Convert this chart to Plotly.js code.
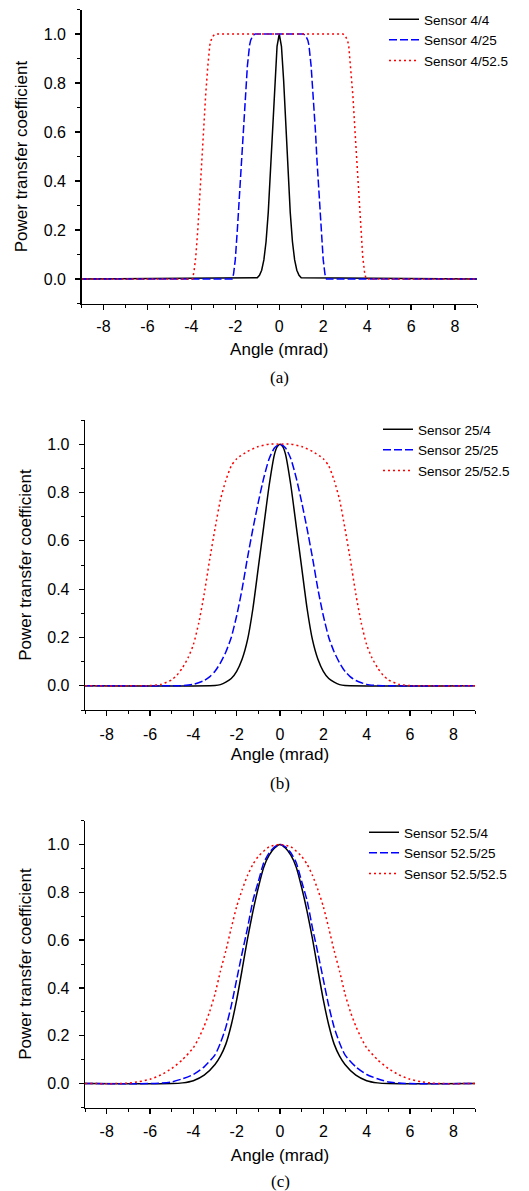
<!DOCTYPE html>
<html>
<head>
<meta charset="utf-8">
<script src="https://cdn.plot.ly/plotly-3.0.1.min.js"></script>
<style>html,body{margin:0;padding:0;background:#fff;}#chart{width:529px;height:1191px;}</style>
</head>
<body>
<div id="chart"></div>
<script>
// ---------- Panel (a) ----------
const names_a = ['Sensor 4/4', 'Sensor 4/25', 'Sensor 4/52.5'];
const angle_a_4 = [-9,-1.0,-0.9,-0.8,-0.7,-0.6,-0.5,-0.4,-0.3,-0.2,-0.1,0,0.1,0.2,0.3,0.4,0.5,0.6,0.7,0.8,0.9,1.0,9];
const ptc_a_4   = [0,0.005,0.015,0.036,0.078,0.153,0.272,0.435,0.626,0.81,0.95,1,0.95,0.81,0.626,0.435,0.272,0.153,0.078,0.036,0.015,0.005,0];
const angle_a_25 = [-9,-2.15,-2.08,-2.0,-1.9,-1.8,-1.72,-1.65,-1.55,-1.45,-1.35,-1.3,-1.2,-1.1,1.1,1.2,1.3,1.35,1.45,1.55,1.65,1.72,1.8,1.9,2.0,2.08,2.15,9];
const ptc_a_25   = [0,0,0.02,0.08,0.21,0.36,0.48,0.6,0.75,0.87,0.955,0.975,0.993,1,1,0.993,0.975,0.955,0.87,0.75,0.6,0.48,0.36,0.21,0.08,0.02,0,0];
const angle_a_52 = [-9,-3.95,-3.88,-3.8,-3.7,-3.62,-3.53,-3.45,-3.35,-3.25,-3.16,-3.1,-3.0,-2.9,2.9,3.0,3.1,3.16,3.25,3.35,3.45,3.53,3.62,3.7,3.8,3.88,3.95,9];
const ptc_a_52   = [0,0,0.03,0.09,0.21,0.34,0.48,0.6,0.75,0.87,0.955,0.975,0.993,1,1,0.993,0.975,0.955,0.87,0.75,0.6,0.48,0.34,0.21,0.09,0.03,0,0];

// ---------- Panel (b) ----------
const names_b = ['Sensor 25/4', 'Sensor 25/25', 'Sensor 25/52.5'];
const angle_b_4 = [-9,-3,-2.75,-2.5,-2.25,-2,-1.75,-1.5,-1.25,-1,-0.75,-0.5,-0.25,-0.125,0,0.125,0.25,0.5,0.75,1,1.25,1.5,1.75,2,2.25,2.5,2.75,3,9];
const ptc_b_4   = [0,0.001,0.005,0.015,0.03,0.06,0.11,0.19,0.32,0.49,0.66,0.83,0.96,0.99,1,0.99,0.96,0.83,0.66,0.49,0.32,0.19,0.11,0.06,0.03,0.015,0.005,0.001,0];
const angle_b_25 = [-9,-5,-4.5,-4,-3.5,-3.25,-3,-2.75,-2.5,-2.25,-2,-1.75,-1.5,-1.25,-1,-0.75,-0.5,-0.25,0,0.25,0.5,0.75,1,1.25,1.5,1.75,2,2.25,2.5,2.75,3,3.25,3.5,4,4.5,5,9];
const ptc_b_25   = [0,0,0.001,0.006,0.022,0.037,0.06,0.095,0.14,0.2,0.29,0.4,0.53,0.65,0.76,0.86,0.94,0.985,1,0.985,0.94,0.86,0.76,0.65,0.53,0.4,0.29,0.2,0.14,0.095,0.06,0.037,0.022,0.006,0.001,0,0];
const angle_b_52 = [-9,-6,-5.5,-5,-4.75,-4.5,-4.25,-4,-3.75,-3.5,-3.25,-3,-2.75,-2.5,-2.25,-2,-1.5,-1,-0.5,0,0.5,1,1.5,2,2.25,2.5,2.75,3,3.25,3.5,3.75,4,4.25,4.5,4.75,5,5.5,6,9];
const ptc_b_52   = [0,0.001,0.006,0.025,0.045,0.075,0.115,0.17,0.26,0.38,0.52,0.65,0.77,0.85,0.91,0.94,0.97,0.99,1,1,1,0.99,0.97,0.94,0.91,0.85,0.77,0.65,0.52,0.38,0.26,0.17,0.115,0.075,0.045,0.025,0.006,0.001,0];

// ---------- Panel (c) ----------
const names_c = ['Sensor 52.5/4', 'Sensor 52.5/25', 'Sensor 52.5/52.5'];
const angle_c_4 = [-9,-5,-4.5,-4,-3.5,-3,-2.75,-2.5,-2.25,-2,-1.75,-1.5,-1.25,-1,-0.75,-0.5,-0.25,0,0.25,0.5,0.75,1,1.25,1.5,1.75,2,2.25,2.5,2.75,3,3.5,4,4.5,5,9];
const ptc_c_4   = [0,0,0.003,0.012,0.035,0.08,0.115,0.165,0.245,0.35,0.475,0.605,0.72,0.82,0.905,0.955,0.985,1,0.985,0.955,0.905,0.82,0.72,0.605,0.475,0.35,0.245,0.165,0.115,0.08,0.035,0.012,0.003,0,0];
const angle_c_25 = [-9,-6,-5.5,-5,-4.5,-4,-3.5,-3,-2.75,-2.5,-2.25,-2,-1.75,-1.5,-1.25,-1,-0.75,-0.5,-0.25,0,0.25,0.5,0.75,1,1.25,1.5,1.75,2,2.25,2.5,2.75,3,3.5,4,4.5,5,5.5,6,9];
const ptc_c_25   = [0,0,0.002,0.007,0.02,0.038,0.07,0.12,0.17,0.235,0.325,0.435,0.545,0.65,0.765,0.845,0.923,0.965,0.99,1,0.99,0.965,0.923,0.845,0.765,0.65,0.545,0.435,0.325,0.235,0.17,0.12,0.07,0.038,0.02,0.007,0.002,0,0];
const angle_c_52 = [-9,-7.5,-7,-6.5,-6,-5.5,-5,-4.5,-4,-3.75,-3.5,-3.25,-3,-2.75,-2.5,-2.25,-2,-1.75,-1.5,-1.25,-1,-0.5,0,0.5,1,1.25,1.5,1.75,2,2.25,2.5,2.75,3,3.25,3.5,3.75,4,4.5,5,5.5,6,6.5,7,7.5,9];
const ptc_c_52   = [0,0,0.002,0.008,0.018,0.036,0.063,0.1,0.15,0.19,0.24,0.3,0.375,0.47,0.555,0.65,0.74,0.81,0.87,0.917,0.95,0.99,1,0.99,0.95,0.917,0.87,0.81,0.74,0.65,0.555,0.47,0.375,0.3,0.24,0.19,0.15,0.1,0.063,0.036,0.018,0.008,0.002,0,0];

const xTickVals = [-8,-6,-4,-2,0,2,4,6,8];
const yTickVals = [0.0,0.2,0.4,0.6,0.8,1.0];
const panelLabels = ['(a)', '(b)', '(c)'];

const W = 529, H = 1191;
const SANS = 'Liberation Sans, Arial, Helvetica, sans-serif';
const SERIF = 'Liberation Serif, Times New Roman, serif';
const styles = [
  {color:'#000000', width:1.5, dash:'solid'},
  {color:'#0000ff', width:1.5, dash:'8px,3px'},
  {color:'#ff0000', width:1.5, dash:'2px,3px'}
];

// pixel geometry of each panel: [left, right, top, bottom]
const geom = [
  [81.5, 477, 9.5, 303.5],
  [85, 475, 420, 710],
  [85, 475, 820.5, 1107.5]
];
const xStandoff = [3, 4, 4];
const xTitleStandoff = [9, 6, 10];
const labelY = [378, 783, 1181.5];
const legendPos = [[384, 4], [378, 414], [364, 817]];

const panels = [
  {names:names_a, xs:[angle_a_4, angle_a_25, angle_a_52], ys:[ptc_a_4, ptc_a_25, ptc_a_52], shape:'linear'},
  {names:names_b, xs:[angle_b_4, angle_b_25, angle_b_52], ys:[ptc_b_4, ptc_b_25, ptc_b_52], shape:'spline'},
  {names:names_c, xs:[angle_c_4, angle_c_25, angle_c_52], ys:[ptc_c_4, ptc_c_25, ptc_c_52], shape:'spline'}
];

const traces = [];
const layout = {
  width: W, height: H,
  margin: {l:0, r:0, t:0, b:0},
  paper_bgcolor: '#ffffff', plot_bgcolor: '#ffffff',
  font: {family: SANS, color:'#000'},
  annotations: [],
  showlegend: true
};

panels.forEach((p, i) => {
  const n = i === 0 ? '' : String(i + 1);
  const [l, r, t, b] = geom[i];
  for (let k = 0; k < 3; k++) {
    traces.push({
      type:'scatter', mode:'lines',
      x: p.xs[k], y: p.ys[k], name: p.names[k],
      xaxis: 'x' + n, yaxis: 'y' + n,
      legend: 'legend' + n,
      line: {color: styles[k].color, width: styles[k].width, dash: styles[k].dash, shape: p.shape, smoothing: 0.6},
      hoverinfo: 'skip'
    });
  }
  layout['xaxis' + n] = {
    domain: [l / W, r / W], anchor: 'y' + n,
    range: [-9, 9], showgrid: false, zeroline: false,
    showline: true, linecolor: '#000', linewidth: 1.3,
    tickmode: 'array', tickvals: xTickVals, ticktext: xTickVals.map(v => String(v)),
    ticks: 'outside', ticklen: 5, tickwidth: 1.2, tickcolor: '#000',
    minor: {dtick: 1, tick0: 0, ticks: 'outside', ticklen: 3, tickwidth: 1, tickcolor: '#000', showgrid: false},
    ticklabelstandoff: xStandoff[i],
    tickfont: {family: SANS, size: 16, color: '#000'},
    title: {text: 'Angle (mrad)', font: {family: SANS, size: 17, color: '#000'}, standoff: xTitleStandoff[i]}
  };
  layout['yaxis' + n] = {
    domain: [1 - b / H, 1 - t / H], anchor: 'x' + n,
    range: [-0.1, 1.1], showgrid: false, zeroline: false,
    showline: true, linecolor: '#000', linewidth: 1.3,
    tickmode: 'array', tickvals: yTickVals, ticktext: yTickVals.map(v => v.toFixed(1)),
    ticks: 'outside', ticklen: 5, tickwidth: 1.2, tickcolor: '#000',
    minor: {dtick: 0.1, tick0: 0, ticks: 'outside', ticklen: 3, tickwidth: 1, tickcolor: '#000', showgrid: false},
    ticklabelstandoff: 6,
    tickfont: {family: SANS, size: 16, color: '#000'},
    title: {text: 'Power transfer coefficient', font: {family: SANS, size: 17, color: '#000'}, standoff: 11}
  };
  layout['legend' + n] = {
    x: legendPos[i][0] / W, y: 1 - legendPos[i][1] / H,
    xanchor: 'left', yanchor: 'top',
    bgcolor: 'rgba(0,0,0,0)', borderwidth: 0,
    font: {family: SANS, size: 13.5, color: '#000'},
    tracegroupgap: 0, itemwidth: 30
  };
  layout.annotations.push({
    xref: 'paper', yref: 'paper', x: ((l + r) / 2) / W, y: 1 - labelY[i] / H,
    xanchor: 'center', yanchor: 'middle', showarrow: false,
    text: panelLabels[i], font: {family: SERIF, size: 17, color: '#000'}
  });
});

Plotly.newPlot('chart', traces, layout, {staticPlot: true, displayModeBar: false});
</script>
</body>
</html>
